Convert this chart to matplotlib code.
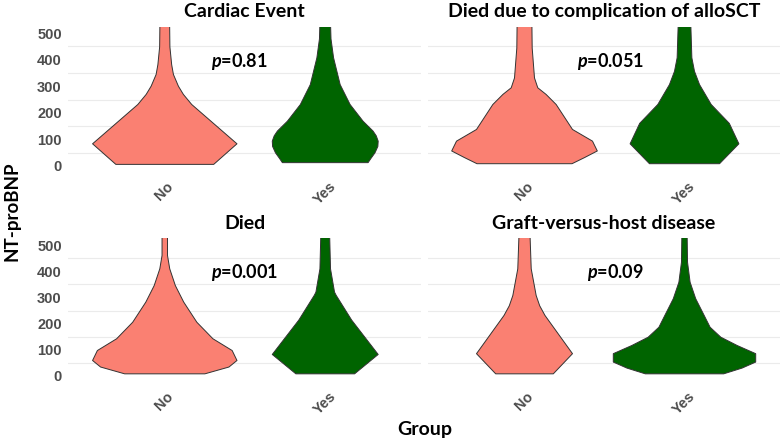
import matplotlib
matplotlib.use("Agg")
import matplotlib.pyplot as plt

plt.rcParams['font.family'] = ['Lato', 'DejaVu Sans']
plt.rcParams['mathtext.fontset'] = 'custom'
plt.rcParams['mathtext.it'] = 'Lato:italic:bold'
plt.rcParams['mathtext.rm'] = 'Lato:bold'

titles = ["Cardiac Event", "Died due to complication of alloSCT",
          "Died", "Graft-versus-host disease"]
groups = ["No", "Yes"]
p_values = ["0.81", "0.051", "0.001", "0.09"]
p_xpos = [1.47, 1.54, 1.50, 1.57]
p_ypos = 395
y_ticks = [0, 100, 200, 300, 400, 500]

# violin outlines: NT-proBNP level and half width (x units)
cardiac_no_y = [7.5, 85, 233, 271, 302, 346, 383, 450, 600]
cardiac_no_w = [0.305, 0.45, 0.168, 0.116, 0.085, 0.054, 0.043, 0.032, 0.029]
cardiac_yes_y = [14, 30, 51, 75, 95, 115, 133, 170, 233, 308, 409, 480, 600]
cardiac_yes_w = [0.267, 0.285, 0.31, 0.328, 0.33, 0.318, 0.298, 0.236, 0.155,
                 0.093, 0.052, 0.036, 0.03]

allo_no_y = [10, 33, 58, 95, 139, 233, 271, 296, 333, 446, 600]
allo_no_w = [0.297, 0.375, 0.455, 0.425, 0.30, 0.198, 0.135, 0.083, 0.0625, 0.048, 0.045]
allo_yes_y = [10, 85, 162, 233, 308, 358, 409, 600]
allo_yes_w = [0.219, 0.34, 0.28, 0.167, 0.094, 0.0625, 0.046, 0.036]

died_no_y = [10, 36, 61, 99, 144, 207, 284, 347, 411, 462, 600]
died_no_w = [0.25, 0.40, 0.45, 0.42, 0.30, 0.20, 0.118, 0.066, 0.031, 0.017, 0.017]
died_yes_y = [10, 84, 215, 310, 322, 411, 600]
died_yes_w = [0.183, 0.33, 0.165, 0.068, 0.058, 0.033, 0.025]

gvhd_no_y = [10, 87, 233, 270, 309, 411, 600]
gvhd_no_w = [0.18, 0.30, 0.128, 0.095, 0.073, 0.042, 0.031]
gvhd_yes_y = [10, 32, 55, 87, 118, 150, 188, 233, 297, 360, 436, 600]
gvhd_yes_w = [0.245, 0.36, 0.445, 0.445, 0.33, 0.227, 0.16, 0.123, 0.07, 0.035, 0.019, 0.015]

violins = [
    [(cardiac_no_y, cardiac_no_w), (cardiac_yes_y, cardiac_yes_w)],
    [(allo_no_y, allo_no_w), (allo_yes_y, allo_yes_w)],
    [(died_no_y, died_no_w), (died_yes_y, died_yes_w)],
    [(gvhd_no_y, gvhd_no_w), (gvhd_yes_y, gvhd_yes_w)],
]
colors = ["#FA8072", "#006400"]

W, H = 782, 440


def px_rect(x0, y0, x1, y1):
    return [x0 / W, 1 - y1 / H, (x1 - x0) / W, (y1 - y0) / H]


rects = [px_rect(68, 26.5, 421, 172.5), px_rect(428, 26.5, 780, 172.5),
         px_rect(68, 238.5, 421, 382.5), px_rect(428, 238.5, 780, 382.5)]

fig = plt.figure(figsize=(7.82, 4.40), dpi=100)

for i, rect in enumerate(rects):
    ax = fig.add_axes(rect)
    for j, (ys, ws) in enumerate(violins[i]):
        x0 = j + 1
        left = [x0 - w for w in ws]
        right = [x0 + w for w in ws]
        ax.fill_betweenx(ys, left, right, facecolor=colors[j],
                         edgecolor="#333333", linewidth=0.7, zorder=2)
    ax.set_xlim(0.4, 2.6)
    ax.set_ylim(-25, 525)
    for g in [50, 150, 250, 350, 450]:
        ax.axhline(g, color="#EBEBEB", linewidth=0.8, zorder=0)
    for s in ax.spines.values():
        s.set_visible(False)
    ax.set_xticks([1, 2])
    ax.set_xticklabels(groups, rotation=45, ha="center", va="top",
                       fontsize=10.5, fontweight="bold", color="#4D4D4D",
                       family="Liberation Sans")
    ax.set_yticks(y_ticks)
    if i % 2 == 0:
        ax.set_yticklabels([str(t) for t in y_ticks], fontsize=10.5,
                           fontweight="bold", color="#4D4D4D",
                           family="Liberation Sans")
    else:
        ax.set_yticklabels([])
    ax.tick_params(axis="y", length=0, pad=4.5)
    ax.tick_params(axis="x", length=0, pad=5)
    ax.set_title(titles[i], fontsize=14, fontweight="bold", pad=7)
    ax.text(p_xpos[i], p_ypos, "$p$=" + p_values[i], fontsize=13,
            fontweight="bold", ha="center", va="center")

fig.text(12 / W, 1 - 211 / H, "NT-proBNP", rotation=90, fontsize=13.5,
         fontweight="bold", ha="center", va="center")
fig.text(425 / W, 1 - 429 / H, "Group", fontsize=14, fontweight="bold",
         ha="center", va="center")

fig.savefig("out.png", dpi=100)
